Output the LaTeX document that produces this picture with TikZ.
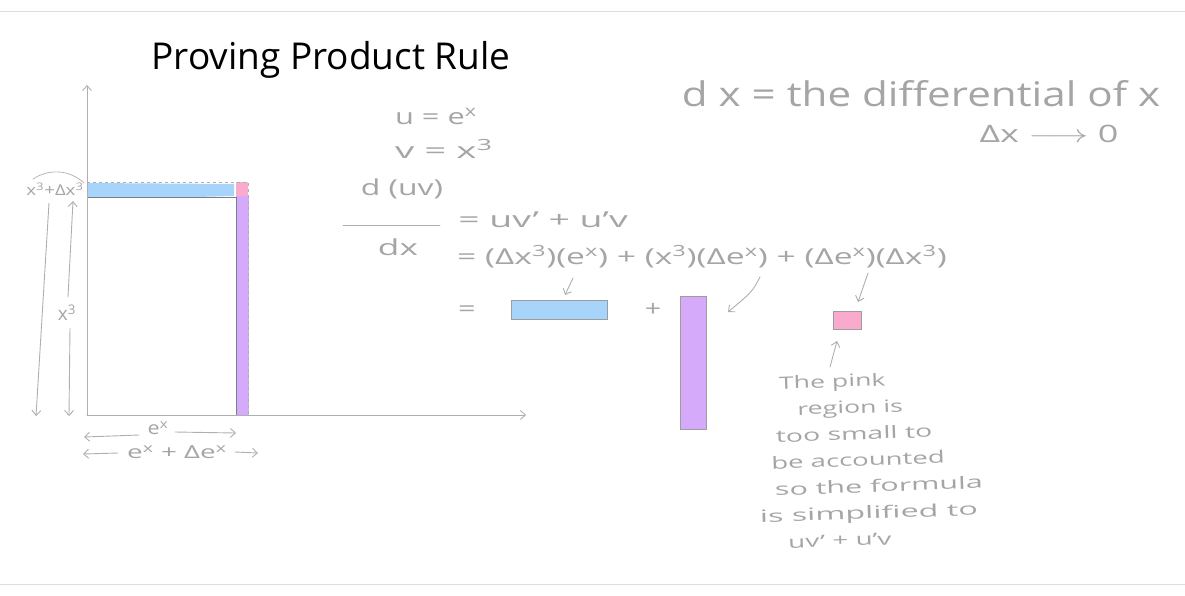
\documentclass[tikz,border=0pt]{standalone}
\usepackage{fontspec}
\setmainfont{Open Sans}
\usetikzlibrary{arrows.meta}
\definecolor{inkgray}{RGB}{165,165,165}
\definecolor{linegray}{RGB}{175,175,175}
\definecolor{darkline}{RGB}{120,128,135}
\definecolor{rulegray}{RGB}{222,222,222}
\definecolor{hlblue}{RGB}{166,212,250}
\definecolor{hlpink}{RGB}{250,170,205}
\definecolor{hlpurple}{RGB}{214,170,250}
\newcommand{\widen}[2]{\scalebox{#1}[1]{#2}}
\tikzset{
  hw/.style={text=inkgray, inner sep=0pt, font=\fontsize{22}{26}\selectfont},
  hwsmall/.style={hw, font=\fontsize{15}{17}\selectfont},
  hwnote/.style={hw, font=\fontsize{17}{26.5}\selectfont, rotate=2, align=center},
  ink/.style={draw=linegray, line width=0.9pt, line cap=round},
  tip/.style={-{Straight Barb[length=5pt,width=9pt]}},
  boxline/.style={draw=linegray!90!black, line width=0.8pt},
}
\begin{document}
\begin{tikzpicture}[x=1pt,y=-1pt]
\useasboundingbox (0,0) rectangle (1185,595);
% faint page rules
\draw[rulegray, line width=0.8pt] (0,11) -- (1185,11);
\draw[rulegray, line width=0.8pt] (0,584) -- (1185,584);

% title
\node[inner sep=0pt, anchor=base, font=\fontsize{37}{42}\selectfont] (title) at (331,69) {Proving Product Rule};

% ---- main diagram ----
\fill[hlblue] (88,183) -- (234,184) -- (234,196) -- (160,198) -- (88,197) -- cycle;
\fill[hlpink] (236,182) rectangle (248,196);
\fill[hlpurple] (236,196) rectangle (249,415);
\draw[linegray, line width=0.9pt, dashed] (87,182) -- (248,182) -- (248,415);
\draw[darkline, line width=0.9pt] (87,197) -- (236,197) -- (236,415);
\coordinate (origin) at (87,415);
\coordinate (ytop) at (87,85);
\coordinate (xend) at (526,415);
\draw[ink, tip] (origin) -- (ytop);
\draw[ink, tip] (origin) -- (xend);

% left labels
\node[hwsmall] (ylabtot) at (55,189) {\widen{1.25}{x\textsuperscript{3}+Δx\textsuperscript{3}}};
\node[hw, font=\fontsize{19}{22}\selectfont] (ylab) at (67,313) {x\textsuperscript{3}};
\coordinate (arcL) at (33,179);
\coordinate (arcR) at (84,183);
\draw[ink, line width=0.7pt] (arcL) .. controls (50,168) and (70,170) .. (arcR);
\coordinate (a1s) at (49,203);
\coordinate (a1e) at (36,416);
\draw[ink, tip] (a1s) -- (a1e);
\coordinate (a2s) at (68,297);
\coordinate (a2e) at (73,201);
\draw[ink, tip] (a2s) -- (a2e);
\coordinate (a3s) at (70,328);
\coordinate (a3e) at (69,416);
\draw[ink, tip] (a3s) -- (a3e);

% bottom labels
\node[hw, font=\fontsize{18}{20}\selectfont] (xlab) at (158,428) {\widen{1.2}{e\textsuperscript{x}}};
\coordinate (b1ls) at (139,435);
\coordinate (b1l) at (84,437);
\coordinate (b1rs) at (175,432);
\coordinate (b1r) at (236,433);
\draw[ink, tip] (b1ls) -- (b1l);
\draw[ink, tip] (b1rs) -- (b1r);
\node[hw, font=\fontsize{18}{20}\selectfont] (xlabtot) at (177,452) {\widen{1.55}{e\textsuperscript{x} + Δe\textsuperscript{x}}};
\coordinate (b2ls) at (118,453);
\coordinate (b2l) at (83,454);
\coordinate (b2rs) at (235,452);
\coordinate (b2r) at (258,453);
\draw[ink, tip] (b2ls) -- (b2l);
\draw[ink, tip] (b2rs) -- (b2r);

% ---- derivation ----
\node[hw, anchor=base] (ueq) at (436,124) {\widen{1.4}{u = e\textsuperscript{x}}};
\node[hw, anchor=base] (veq) at (444,158) {\widen{1.75}{v = x\textsuperscript{3}}};
\node[hw, anchor=base] (num) at (402,195) {\widen{1.45}{d (uv)}};
\coordinate (fracL) at (343,225);
\coordinate (fracR) at (440,225);
\draw[ink] (fracL) -- (fracR);
\node[hw, anchor=base] (den) at (398,255) {\widen{1.6}{dx}};
\node[hw, anchor=base] (line1) at (543,227) {\widen{1.7}{= uv' + u'v}};
\node[hw, anchor=base] (line2) at (702,264) {\widen{1.53}{= (Δx\textsuperscript{3})(e\textsuperscript{x}) + (x\textsuperscript{3})(Δe\textsuperscript{x}) + (Δe\textsuperscript{x})(Δx\textsuperscript{3})}};
\node[hw] (eq3) at (467,311) {\widen{1.4}{=}};
\node[hw] (plus3) at (653,310) {\widen{1.3}{+}};

% small rectangles
\node[boxline, fill=hlblue, minimum width=96pt, minimum height=19pt, inner sep=0pt] (bluebox) at (559,310) {};
\node[boxline, fill=hlpurple, minimum width=26pt, minimum height=133pt, inner sep=0pt] (purplebox) at (693,362.5) {};
\node[boxline, fill=hlpink, minimum width=28pt, minimum height=18pt, inner sep=0pt] (pinkbox) at (847,320) {};

% arrows to boxes
\coordinate (c1) at (573,278);
\coordinate (c1e) at (565,295);
\draw[ink, tip] (c1) -- (c1e);
\coordinate (c2) at (760,277);
\coordinate (c2e) at (728,312);
\draw[ink, tip] (c2) .. controls (752,292) .. (c2e);
\coordinate (c3) at (868,273);
\coordinate (c3e) at (858,302);
\draw[ink, tip] (c3) -- (c3e);
\coordinate (c4) at (830,367);
\coordinate (c4e) at (837,341);
\draw[ink, tip] (c4) -- (c4e);

% note
\node[hwnote] (note) at (852,460) {%
  \widen{1.57}{The pink}\hspace*{34pt}\\
  \widen{1.57}{region is}\hspace*{28pt}\\
  \hspace*{6pt}\widen{1.67}{too small to}\\
  \hspace*{12pt}\widen{1.62}{be accounted}\\
  \hspace*{52pt}\widen{1.79}{so the formula}\\
  \hspace*{30pt}\widen{1.9}{is simplified to}\\
  \widen{1.64}{uv' + u'v}\hspace*{30pt}};

% top right
\node[hw, anchor=base, font=\fontsize{34}{38}\selectfont] (dxdef) at (921,106) {\widen{1.24}{d x = the differential of x}};
\node[hw, anchor=base, font=\fontsize{24}{28}\selectfont] (lim) at (1049,142) {\widen{1.5}{Δx $\longrightarrow$ 0}};
\end{tikzpicture}
\end{document}
